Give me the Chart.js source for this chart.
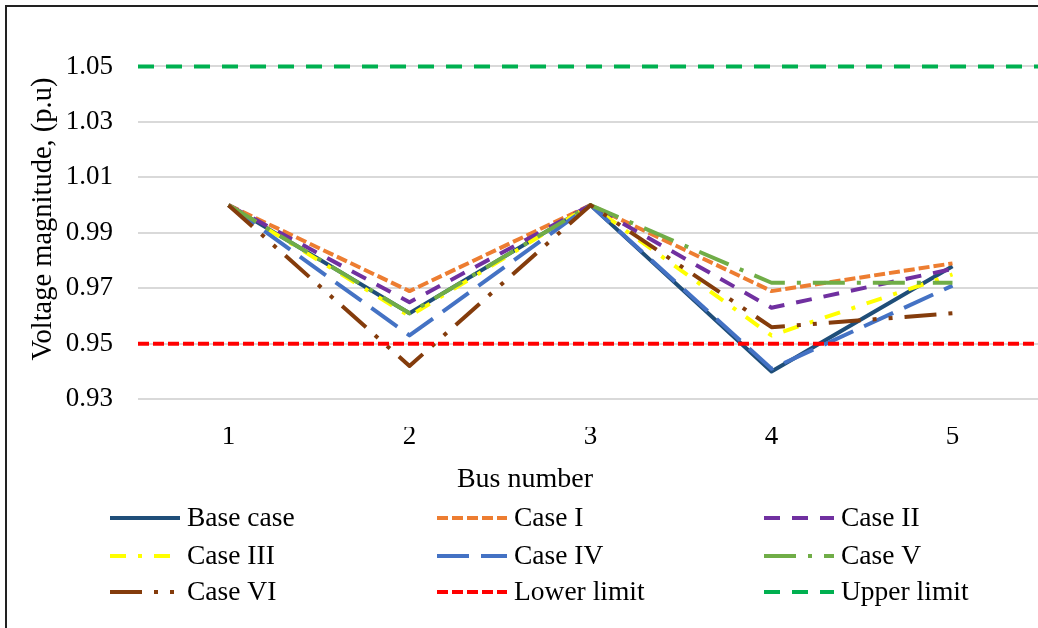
<!DOCTYPE html>
<html>
<head>
<meta charset="utf-8">
<title>Bus voltage profile</title>
<script src="https://cdn.jsdelivr.net/npm/chart.js@4.4.1/dist/chart.umd.min.js"></script>
<style>
  html, body { margin: 0; padding: 0; background: #fff; overflow: hidden; }
  #wrap { position: relative; width: 1046px; height: 628px; }
</style>
</head>
<body>
<div id="wrap"><canvas id="voltChart" width="1046" height="628"></canvas></div>
<script>
// bus voltages (p.u) for every case
const buses = [1, 2, 3, 4, 5];
const baseCase = [1.000, 0.961, 1.000, 0.940, 0.978];
const caseI    = [1.000, 0.969, 1.000, 0.969, 0.979];
const caseII   = [1.000, 0.965, 1.000, 0.963, 0.977];
const caseIII  = [1.000, 0.960, 1.000, 0.953, 0.975];
const caseIV   = [1.000, 0.953, 1.000, 0.941, 0.971];
const caseV    = [1.000, 0.961, 1.000, 0.972, 0.972];
const caseVI   = [1.000, 0.942, 1.000, 0.956, 0.961];
const lowerLimit = 0.95;
const upperLimit = 1.05;
const yTicks = [0.93, 0.95, 0.97, 0.99, 1.01, 1.03, 1.05];
const xMin = 0.5, xMax = 5.5;
const xTitle = 'Bus number';

const FONT = "'Liberation Serif', 'Times New Roman', serif";

function pts(values) {
  return buses.map((b, i) => ({ x: b, y: values[i] }));
}
function flat(v) {
  return [{ x: xMin, y: v }, { x: xMax, y: v }];
}
function series(label, data, color, dash) {
  return {
    label: label,
    data: data,
    borderColor: color,
    backgroundColor: color,
    borderWidth: 4,
    borderDash: dash,
    borderCapStyle: 'butt',
    borderJoinStyle: 'round',
    pointRadius: 0,
    tension: 0,
    fill: false
  };
}

const datasets = [
  series('Base case', pts(baseCase), '#1F4E79', []),
  series('Case I', pts(caseI), '#ED7D31', [11, 4]),
  series('Case II', pts(caseII), '#7030A0', [16, 12]),
  series('Case III', pts(caseIII), '#FFFF00', [16, 12, 4, 12]),
  series('Case IV', pts(caseIV), '#4472C4', [32, 12]),
  series('Case V', pts(caseV), '#70AD47', [32, 12, 4, 12]),
  series('Case VI', pts(caseVI), '#843C0C', [32, 12, 4, 12, 4, 12]),
  series('Lower limit', flat(lowerLimit), '#FF0000', [11, 4]),
  series('Upper limit', flat(upperLimit), '#00B050', [16, 12])
];
// later series sit on top, like the original workbook
datasets.forEach((d, i) => { d.order = datasets.length - i; });

// white page with the frame round it
const framePlugin = {
  id: 'frame',
  beforeDraw(chart) {
    const ctx = chart.ctx;
    ctx.save();
    ctx.fillStyle = '#fff';
    ctx.fillRect(0, 0, chart.width, chart.height);
    ctx.strokeStyle = '#222';
    ctx.lineWidth = 2;
    ctx.strokeRect(6, 6, chart.width + 20, chart.height + 20);
    ctx.restore();
  }
};

// x axis title plus a three column legend under it
const legendPlugin = {
  id: 'gridLegend',
  afterDraw(chart) {
    const ctx = chart.ctx;
    const colX = [110, 437, 764];
    const rowY = [518, 556, 592];
    ctx.save();
    ctx.fillStyle = '#000';
    ctx.font = '28px ' + FONT;
    ctx.textBaseline = 'middle';
    ctx.textAlign = 'center';
    ctx.fillText(xTitle, 525, 480);

    ctx.font = '27.5px ' + FONT;
    ctx.textAlign = 'left';
    chart.data.datasets.forEach((ds, i) => {
      const x = colX[i % 3];
      const y = rowY[Math.floor(i / 3)];
      ctx.strokeStyle = ds.borderColor;
      ctx.lineWidth = ds.borderWidth;
      ctx.lineCap = 'butt';
      ctx.setLineDash(ds.borderDash);
      ctx.beginPath();
      ctx.moveTo(x, y);
      ctx.lineTo(x + 70, y);
      ctx.stroke();
      ctx.setLineDash([]);
      ctx.fillText(ds.label, x + 77, y + 1);
    });
    ctx.restore();
  }
};

function noEdgePadding(s) {
  s.paddingTop = 0;
  s.paddingBottom = 0;
  s.paddingLeft = 0;
  s.paddingRight = 0;
}

new Chart(document.getElementById('voltChart'), {
  type: 'line',
  data: { datasets: datasets },
  options: {
    responsive: false,
    animation: false,
    layout: { padding: { top: 11, right: 3, bottom: 126, left: 0 } },
    plugins: {
      legend: { display: false },
      tooltip: { enabled: false }
    },
    scales: {
      x: {
        type: 'linear',
        min: xMin,
        max: xMax,
        afterBuildTicks: s => { s.ticks = buses.map(b => ({ value: b })); },
        afterFit: s => { s.height = 75; noEdgePadding(s); },
        grid: { display: false },
        border: { display: false },
        ticks: {
          color: '#000',
          padding: -14,
          font: { family: FONT, size: 27 },
          callback: v => String(v)
        }
      },
      y: {
        min: 0.92,
        max: 1.07,
        afterBuildTicks: s => { s.ticks = yTicks.map(v => ({ value: v })); },
        afterFit: s => { s.width = 138; noEdgePadding(s); },
        grid: { color: '#D9D9D9', lineWidth: 2, drawTicks: false },
        border: { display: false },
        ticks: {
          color: '#000',
          padding: 25,
          font: { family: FONT, size: 27 },
          callback: v => v.toFixed(2)
        },
        title: {
          display: true,
          text: 'Voltage magnitude, (p.u)',
          color: '#000',
          font: { family: FONT, size: 28.5 },
          padding: { top: 26, bottom: 0 }
        }
      }
    }
  },
  plugins: [framePlugin, legendPlugin]
});
</script>
</body>
</html>
